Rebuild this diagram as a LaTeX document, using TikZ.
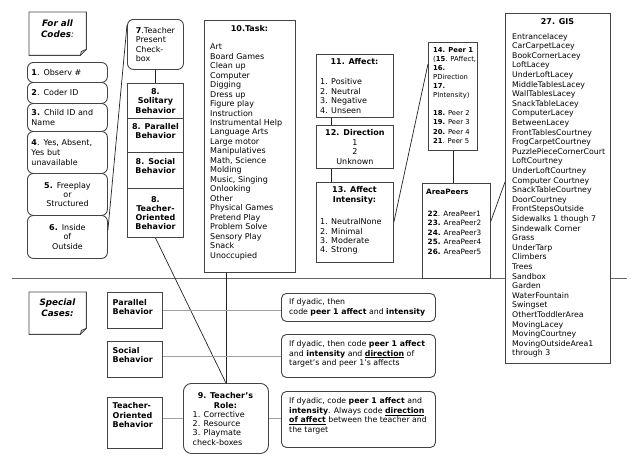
\documentclass[tikz,border=0pt]{standalone}
\usepackage{fontspec}
\setmainfont{DejaVu Sans}
\usetikzlibrary{calc}
\definecolor{edge}{HTML}{444444}
\definecolor{conn}{HTML}{222222}
\definecolor{gconn}{HTML}{A0A0A0}
\definecolor{divc}{HTML}{666666}
\tikzset{
  bx/.style={draw=edge, line width=0.9pt, fill=white, inner sep=0pt, anchor=north west},
  rbx/.style={bx, rounded corners=6pt},
  tx/.style={inner sep=0pt, anchor=north west, align=left},
  f8/.style={font=\fontsize{8}{#1}\selectfont},
  fb8/.style={font=\fontsize{8}{#1}\selectfont\bfseries},
  cn/.style={draw=conn, line width=0.7pt},
  gcn/.style={draw=gconn, line width=0.9pt},
  divline/.style={draw=divc, line width=1pt},
  noteline/.style={draw=edge, line width=0.9pt},
  notebox/.style={inner sep=0pt, anchor=north west},
}
\begin{document}
\begin{tikzpicture}[x=1pt,y=-1pt]
\useasboundingbox (0,0) rectangle (640,469);
% divider
\coordinate (divL) at (12,278);
\coordinate (divR) at (627,278);
\draw[divline] (divL) -- (divR);

% ---------- For all codes note
\node[notebox, minimum width=57pt, minimum height=43pt] (allnote) at (29,12) {};
\draw[noteline, fill=white] (allnote.north west) -- (allnote.north east) -- ([yshift=6pt]allnote.south east) -- ([xshift=-6pt]allnote.south east) -- (allnote.south west) -- cycle;
\draw[noteline] ([yshift=6pt]allnote.south east) -- ([xshift=-5pt,yshift=4pt]allnote.south east) -- ([xshift=-6pt]allnote.south east);
\node[inner sep=0pt, anchor=north, align=center, font=\fontsize{8.8}{11.5}\selectfont\bfseries\itshape] (alltx) at (57.5,19.5) {For all\\Codes\textmd{:}};

% ---------- left column
\node[rbx, minimum width=80pt, minimum height=20pt, text width=72pt, align=left, f8=10] (b1) at (27,62) {\textbf{1}. Observ \#};
\node[rbx, minimum width=80pt, minimum height=21pt, text width=72pt, align=left, f8=10] (b2) at (27,82) {\textbf{2}. Coder ID};
\node[rbx, minimum width=80pt, minimum height=28pt, text width=72pt, align=left, f8=10.3] (b3) at (27,103) {\textbf{3.} Child ID and\\Name};
\node[rbx, minimum width=80pt, minimum height=42pt, text width=72pt, align=left, f8=10] (b4) at (27,131) {\textbf{4}. Yes, Absent,\\Yes but\\unavailable};
\node[rbx, minimum width=80pt, minimum height=42pt, text width=72pt, align=center, f8=9] (b5) at (27,173) {\textbf{5.} Freeplay\\or\\Structured};
\node[rbx, minimum width=80pt, minimum height=43pt, text width=72pt, align=center, f8=9.5] (b6) at (27,215) {\textbf{6.} Inside\\of\\Outside};

% ---------- box 7 and 8
\node[rbx, minimum width=56pt, minimum height=50pt, align=left, f8=9.4] (b7) at (127,19) {\textbf{7}.Teacher\\Present\\Check-\\box};
\node[bx, minimum width=56pt, minimum height=35pt, text width=54pt, align=center, fb8=9.2] (s1) at (127,83) {8.\\Solitary\\Behavior};
\node[bx, minimum width=56pt, minimum height=34pt, text width=54pt, align=center, fb8=9.2] (s2) at (127,118) {8. Parallel\\Behavior\\\mbox{}};
\node[bx, minimum width=56pt, minimum height=36pt, text width=54pt, align=center, fb8=9.2] (s3) at (127,152) {8. Social\\Behavior\\\mbox{}};
\node[bx, minimum width=56pt, minimum height=49pt, text width=54pt, align=center, fb8=9.1] (s4) at (127,188) {8.\\Teacher-\\Oriented\\Behavior};

% ---------- task
\node[bx, minimum width=91pt, minimum height=252pt] (task) at (204,20) {};
\node[tx, anchor=north, fb8=9.5] (taskh) at (249.5,25) {10.Task:};
\node[tx, f8=9.47] (tasktx) at (210,43.7) {Art\\Board Games\\Clean up\\Computer\\Digging\\Dress up\\Figure play\\Instruction\\Instrumental Help\\Language Arts\\Large motor\\Manipulatives\\Math, Science\\Molding\\Music, Singing\\Onlooking\\Other\\Physical Games\\Pretend Play\\Problem Solve\\Sensory Play\\Snack\\Unoccupied};

% ---------- affect, direction, intensity
\node[bx, minimum width=77pt, minimum height=63pt] (aff) at (316,54) {};
\node[tx, anchor=north, fb8=9.5] (affh) at (354.5,58.7) {11. Affect:};
\node[tx, f8=9.5] (afftx) at (320,78.7) {1. Positive\\2. Neutral\\3. Negative\\4. Unseen};
\node[bx, minimum width=77pt, minimum height=43pt, text width=75pt, align=center, f8=9.5] (dir) at (316,125) {\textbf{12. Direction}\\1\\2\\Unknown};
\node[bx, minimum width=77pt, minimum height=80pt] (int) at (316,182) {};
\node[tx, anchor=north, align=center, fb8=9.7] (inth) at (354.5,186.3) {13. Affect\\Intensity:};
\node[tx, f8=9.2] (inttx) at (320,218.7) {1. NeutralNone\\2. Minimal\\3. Moderate\\4. Strong};

% ---------- peers
\node[bx, minimum width=49pt, minimum height=108pt] (peer) at (428,42) {};
\node[tx, font=\fontsize{6.8}{9.1}\selectfont] (peertx) at (433,47) {\textbf{14. Peer 1}\\(\textbf{15}. PAffect,\\\textbf{16.}\\PDirection\\\textbf{17.}\\PIntensity)\\[9.1pt]\textbf{18.} Peer 2\\\textbf{19.} Peer 3\\\textbf{20.} Peer 4\\\textbf{21}. Peer 5};
\node[bx, minimum width=68pt, minimum height=95pt] (ap) at (422,183) {};
\node[tx, font=\fontsize{7.3}{9}\selectfont\bfseries] (aph) at (426,189) {AreaPeers};
\node[tx, font=\fontsize{7.3}{9.6}\selectfont] (aptx) at (427.5,210.5) {\textbf{22}. AreaPeer1\\\textbf{23.} AreaPeer2\\\textbf{24.} AreaPeer3\\\textbf{25.} AreaPeer4\\\textbf{26.} AreaPeer5};

% ---------- GIS
\node[bx, minimum width=105pt, minimum height=350pt] (gis) at (505,13) {};
\node[tx, anchor=north, fb8=9.6] (gish) at (557.5,18.5) {27. GIS};
\node[tx, font=\fontsize{7.8}{9.6}\selectfont] (gistx) at (512,33) {Entrancelacey\\CarCarpetLacey\\BookCornerLacey\\LoftLacey\\UnderLoftLacey\\MiddleTablesLacey\\WallTablesLacey\\SnackTableLacey\\ComputerLacey\\BetweenLacey\\FrontTablesCourtney\\FrogCarpetCourtney\\PuzzlePieceCornerCourt\\LoftCourtney\\UnderLoftCourtney\\Computer Courtney\\SnackTableCourtney\\DoorCourtney\\FrontStepsOutside\\Sidewalks 1 though 7\\Sindewalk Corner\\Grass\\UnderTarp\\Climbers\\Trees\\Sandbox\\Garden\\WaterFountain\\Swingset\\OthertToddlerArea\\MovingLacey\\MovingCourtney\\MovingOutsideArea1\\through 3};

% ---------- bottom section
\node[notebox, minimum width=57pt, minimum height=42pt] (spnote) at (29,292) {};
\draw[noteline, fill=white] (spnote.north west) -- (spnote.north east) -- ([yshift=6pt]spnote.south east) -- ([xshift=-6pt]spnote.south east) -- (spnote.south west) -- cycle;
\draw[noteline] ([yshift=6pt]spnote.south east) -- ([xshift=-5pt,yshift=4pt]spnote.south east) -- ([xshift=-6pt]spnote.south east);
\node[inner sep=0pt, anchor=north, align=center, font=\fontsize{8.8}{11}\selectfont\bfseries\itshape] (sptx) at (57.5,298.5) {Special\\Cases:};

\node[bx, minimum width=55pt, minimum height=36pt] (par) at (107,292) {};
\node[tx, fb8=8.6] (partx) at (112.5,299.3) {Parallel\\Behavior};
\node[bx, minimum width=55pt, minimum height=36pt] (soc) at (107,341) {};
\node[tx, fb8=8.8] (soctx) at (112.5,347) {Social\\Behavior};
\node[bx, minimum width=55pt, minimum height=51pt] (tor) at (107,397) {};
\node[tx, fb8=9.3] (tortx) at (112.5,402.7) {Teacher-\\Oriented\\Behavior};

\node[rbx, rounded corners=8pt, minimum width=85pt, minimum height=70pt] (role) at (183,383) {};
\node[tx, anchor=north, align=center, fb8=9.3] (roleh) at (225.5,392.7) {9. Teacher’s\\Role:};
\node[tx, f8=9.2] (roletx) at (192.5,411.3) {1. Corrective\\2. Resource\\3. Playmate\\check-boxes};

\node[rbx, rounded corners=5pt, minimum width=154pt, minimum height=28pt] (dy1) at (281,293) {};
\node[tx, font=\fontsize{7.8}{10}\selectfont] (dy1tx) at (289,298.7) {If dyadic, then\\code \textbf{peer 1 affect} and \textbf{intensity}};
\node[rbx, rounded corners=5pt, minimum width=154pt, minimum height=43pt] (dy2) at (281,334) {};
\node[tx, font=\fontsize{7.8}{9.7}\selectfont] (dy2tx) at (289,340.3) {If dyadic, then code \textbf{peer 1 affect}\\and \textbf{intensity} and \textbf{\underline{direction}} of\\target’s and peer 1’s affects};
\node[rbx, rounded corners=5pt, minimum width=154pt, minimum height=56pt] (dy3) at (281,391) {};
\node[tx, font=\fontsize{7.8}{9.5}\selectfont] (dy3tx) at (289,397.7) {If dyadic, code \textbf{peer 1 affect} and\\\textbf{intensity}. Always code \textbf{\underline{direction}}\\\textbf{\underline{of affect}} between the teacher and\\the target};

% ---------- connectors (top)
\draw[cn] ($(b6.north east)+(0,15)$) -- ($(b7.north west)+(0,6)$);
\draw[cn] (b7.south) -- (b7.south |- s1.north);
\draw[cn] ($(aff.north west)+(0,28)$) -- ($(aff.north west)+(0,28)$ -| task.east);
\draw[cn] ($(aff.south west)+(15,0)$) -- ($(dir.north west)+(15,0)$);
\draw[cn] ($(dir.south west)+(15,0)$) -- ($(int.north west)+(15,0)$);
\draw[cn] ($(int.north east)+(0,40)$) -- ($(peer.north west)+(0,22)$);
\draw[cn] (peer.south) -- (peer.south |- ap.north);
\draw[cn] ($(ap.north east)+(0,38)$) -- ($(gis.north west)+(0,169)$);
\draw[divline] (gis.east |- divR) -- (divR);
\draw[cn] (role.north) -- (role.north |- task.south);
\draw[cn] (s4.south) -- (role.north);

% ---------- connectors (bottom)
\draw[gcn] (par.east) -- (par.east -| dy1.west);
\draw[gcn] (dy2.west -| soc.east) -- (dy2.west);
\draw[gcn] (role.west -| tor.east) -- (role.west);
\draw[gcn] (role.east) -- (role.east -| dy3.west);
\end{tikzpicture}
\end{document}
